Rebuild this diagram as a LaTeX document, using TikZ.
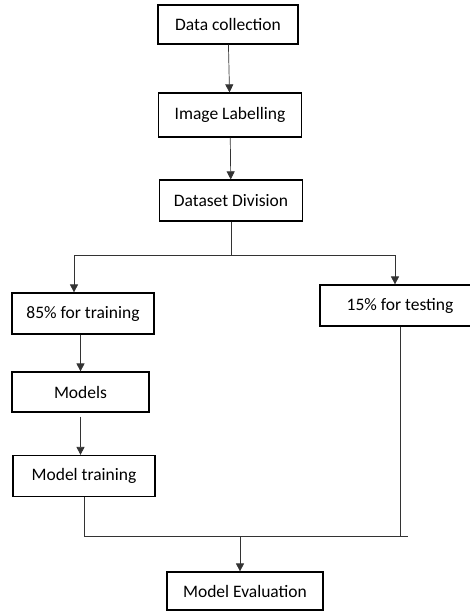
\documentclass[tikz,border=0pt]{standalone}
\usepackage{fontspec}
\setmainfont{Carlito}
\usetikzlibrary{arrows.meta}
\tikzset{
    stage/.style={draw, line width=1.2pt, minimum width=142pt, minimum height=40pt,
        inner sep=0pt, font=\fontsize{17.5}{20}\selectfont},
    link/.style={line width=0.7pt, black!80},
    flow/.style={link, -{Triangle[length=8pt, width=8pt]}}
}

\begin{document}
\begin{tikzpicture}[x=1pt, y=-1pt]
    \useasboundingbox (0,0) rectangle (470,611);

    \draw(228,24.5) node[stage, minimum width=140pt, minimum height=39pt] (collect) {Data collection};
    \draw(230,115) node[stage, minimum width=143pt, minimum height=44pt] (label) {Image Labelling};
    \draw(231,200.5) node[stage, minimum width=143pt, minimum height=41pt] (divide) {Dataset Division};
    \draw(83,313.5) node[stage, minimum height=41pt] (train) {85\% for training};
    \draw(400,305.5) node[stage, minimum width=160pt, minimum height=41pt] (test) {15\% for testing};
    \draw(80.5,392) node[stage, minimum width=137pt] (models) {Models};
    \draw(84,476) node[stage, minimum height=41pt] (fit) {Model training};
    \draw(245,591) node[stage, minimum width=156pt, minimum height=38pt] (evaluate) {Model Evaluation};

    \coordinate (splitL) at (74,255);
    \coordinate (splitR) at (395,255);
    \coordinate (joinR) at (408,536);
    \coordinate (join) at (240,536);

    \draw[flow] (collect) -- (label);
    \draw[flow] (label) -- (divide);
    \draw[link] (divide) |- (splitL);
    \draw[link] (divide) |- (splitR);
    \draw[flow] (splitL) -- (splitL |- train.north);
    \draw[flow] (splitR) -- (splitR |- test.north);
    \draw[flow] (train.south -| models.south) -- (models.north);
    \draw[flow] ([yshift=-4pt]models.south) -- (models.south |- fit.north);
    \draw[link] (fit.south) |- (joinR);
    \draw[link] (test.south) -- (test.south |- joinR);
    \draw[flow] (join) -- (join |- evaluate.north);

\end{tikzpicture}
\end{document}
